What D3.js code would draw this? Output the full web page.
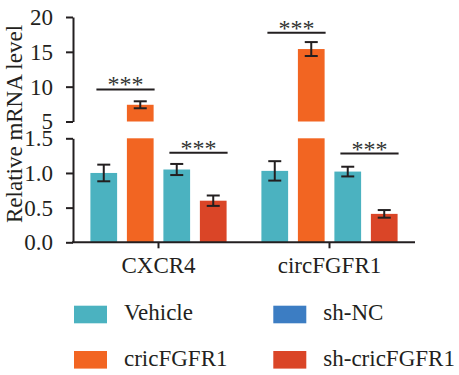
<!DOCTYPE html>
<html><head><meta charset="utf-8">
<script src="https://cdn.jsdelivr.net/npm/d3@7"></script>
<style>html,body{margin:0;padding:0;background:#fff;}svg{display:block;}</style>
</head><body>
<svg id="chart" width="459" height="375"></svg>
<script>
// ---- data ----
const categories = ["CXCR4", "circFGFR1"];
const series = ["Vehicle", "cricFGFR1", "sh-NC", "sh-cricFGFR1"];
const vehicleVals = [1.0, 1.03];
const cricVals = [7.4, 15.4];
const shNCVals = [1.05, 1.02];
const shCricVals = [0.6, 0.41];
const vehicleErr = [0.12, 0.14];
const cricErr = [0.5, 1.0];
const shNCErr = [0.08, 0.07];
const shCricErr = [0.075, 0.055];
const upperTicks = [5, 10, 15, 20];
const lowerTicks = [0, 0.5, 1.0, 1.5];
// significance brackets: category, from series, to series, height value, label
const sigCategory = ["CXCR4", "CXCR4", "circFGFR1", "circFGFR1"];
const sigFrom = ["Vehicle", "sh-NC", "Vehicle", "sh-NC"];
const sigTo = ["cricFGFR1", "sh-cricFGFR1", "cricFGFR1", "sh-cricFGFR1"];
const sigLevel = [9.6, 1.29, 17.75, 1.28];
const sigLabel = ["***", "***", "***", "***"];
const legendOrder = ["Vehicle", "sh-NC", "cricFGFR1", "sh-cricFGFR1"];

// ---- styles ----
const legendColor = {"Vehicle": "#4BB2C0", "cricFGFR1": "#F26522", "sh-NC": "#3C7DC3", "sh-cricFGFR1": "#DA4527"};
const barColor = {"Vehicle": "#4BB2C0", "cricFGFR1": "#F26522", "sh-NC": "#4BB2C0", "sh-cricFGFR1": "#DA4527"};
const ink = "#231F20";
const font = "'Liberation Serif', 'Times New Roman', serif";
const fs = "23px";

const valuesBySeries = {"Vehicle": vehicleVals, "cricFGFR1": cricVals, "sh-NC": shNCVals, "sh-cricFGFR1": shCricVals};
const errBySeries = {"Vehicle": vehicleErr, "cricFGFR1": cricErr, "sh-NC": shNCErr, "sh-cricFGFR1": shCricErr};
const rows = [];
categories.forEach((c, i) => series.forEach(s => rows.push({cat: c, s, v: valuesBySeries[s][i], e: errBySeries[s][i]})));

const svg = d3.select("#chart");
const axisX = 73;
const xRight = 415;
const x0 = d3.scaleBand().domain(categories).range([axisX, xRight]);
const x1 = d3.scaleBand().domain(series).range([-72, 72]).paddingInner(0.268).paddingOuter(0.107);
const yLow = d3.scaleLinear().domain([0, 1.5]).range([242.3, 138.3]);
const yUp = d3.scaleLinear().domain([5, 20]).range([121.5, 17]);
const yAny = v => v > 1.5 ? yUp(v) : yLow(v);
const cx = d => x0(d.cat) + x0.bandwidth() / 2;

// bars
const g = svg.append("g");
rows.forEach(d => {
  const bx = cx(d) + x1(d.s);
  const lowTop = Math.min(d.v, 1.5);
  g.append("rect").attr("x", bx).attr("width", x1.bandwidth())
    .attr("y", yLow(lowTop)).attr("height", yLow(0) - yLow(lowTop)).attr("fill", barColor[d.s]);
  if (d.v > 5) {
    g.append("rect").attr("x", bx).attr("width", x1.bandwidth())
      .attr("y", yUp(d.v)).attr("height", yUp(5) - yUp(d.v)).attr("fill", barColor[d.s]);
  }
  // error bar
  const mx = bx + x1.bandwidth() / 2;
  const t = yAny(d.v + d.e), b = yAny(d.v - d.e);
  const cap = 6.5;
  g.append("line").attr("x1", mx).attr("x2", mx).attr("y1", t).attr("y2", b).attr("stroke", ink).attr("stroke-width", 2);
  g.append("line").attr("x1", mx - cap).attr("x2", mx + cap).attr("y1", t).attr("y2", t).attr("stroke", ink).attr("stroke-width", 2);
  g.append("line").attr("x1", mx - cap).attr("x2", mx + cap).attr("y1", b).attr("y2", b).attr("stroke", ink).attr("stroke-width", 2);
});

// axes
function styleAxis(sel) {
  sel.selectAll("path,line").attr("stroke", ink).attr("stroke-width", 2);
  sel.selectAll("text").attr("fill", ink).style("font-family", font).style("font-size", fs);
}
svg.append("g").attr("transform", `translate(${axisX},0)`)
  .call(d3.axisLeft(yUp).tickValues(upperTicks).tickFormat(d3.format("d")).tickSize(7).tickSizeOuter(0).tickPadding(13))
  .call(styleAxis);
svg.append("g").attr("transform", `translate(${axisX},0)`)
  .call(d3.axisLeft(yLow).tickValues(lowerTicks).tickFormat(d3.format(".1f")).tickSize(7).tickSizeOuter(0).tickPadding(13))
  .call(styleAxis);
const xa = svg.append("g").attr("transform", `translate(0,${yLow(0)})`)
  .call(d3.axisBottom(x0).tickSize(6).tickSizeOuter(0).tickPadding(8))
  .call(styleAxis);
xa.select(".domain").attr("d", `M${axisX - 1},0H${xRight}`);

// y title
svg.append("text").attr("transform", `translate(22,124) rotate(-90)`)
  .attr("text-anchor", "middle").style("font-family", font).style("font-size", fs).attr("fill", ink)
  .text("Relative mRNA level");

// significance
sigCategory.forEach((c, i) => {
  const base = x0(c) + x0.bandwidth() / 2;
  const xa1 = base + x1(sigFrom[i]) + 6;
  const xa2 = base + x1(sigTo[i]) + x1.bandwidth() + 1;
  const yy = yAny(sigLevel[i]);
  svg.append("line").attr("x1", xa1).attr("x2", xa2).attr("y1", yy).attr("y2", yy).attr("stroke", ink).attr("stroke-width", 2);
  svg.append("text").attr("x", (xa1 + xa2) / 2).attr("y", yy + 3).attr("text-anchor", "middle")
    .style("font-family", font).style("font-size", "24px").attr("fill", "#333").text(sigLabel[i]);
});

// legend
const lg = svg.append("g");
legendOrder.forEach((s, i) => {
  const col = i % 2, row = Math.floor(i / 2);
  const lx = [74, 273.3][col], ly = [305.7, 351][row];
  lg.append("rect").attr("x", lx).attr("y", ly).attr("width", 33).attr("height", 17.6).attr("fill", legendColor[s]);
  lg.append("text").attr("x", lx + 50).attr("y", ly + 14.7).style("font-family", font).style("font-size", fs)
    .attr("fill", ink).text(s);
});
</script>
</body></html>
